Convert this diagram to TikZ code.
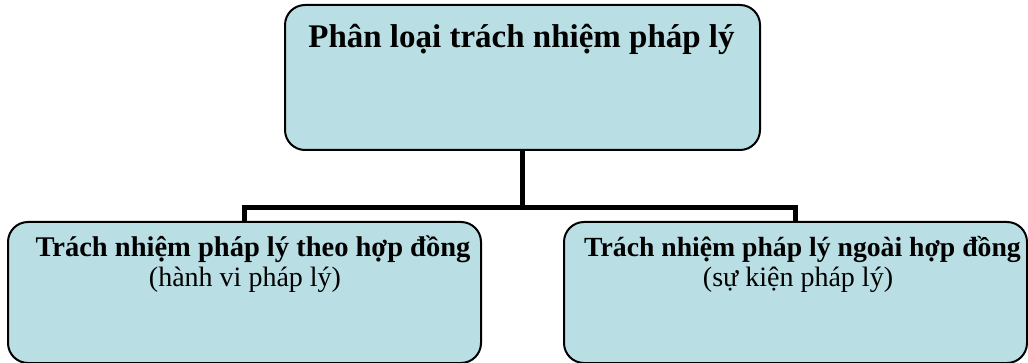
\documentclass[tikz,border=0pt]{standalone}
\usepackage{fontspec}
\setmainfont{Liberation Serif}
\definecolor{boxfill}{RGB}{185,222,227}
\tikzset{
  card/.style={draw=black, line width=2pt, fill=boxfill, rounded corners=20pt,
    inner sep=0pt},
  wire/.style={draw=black, line width=5pt, line join=miter, line cap=butt},
  headtxt/.style={font=\fontsize{33}{40}\selectfont\bfseries, anchor=base, inner sep=0pt},
  subhead/.style={font=\fontsize{28.5}{33}\selectfont\bfseries, anchor=base, inner sep=0pt},
  subnote/.style={font=\fontsize{28}{33}\selectfont, anchor=base, inner sep=0pt}
}
\begin{document}
\begin{tikzpicture}[x=1pt,y=-1pt]
\useasboundingbox (0,0) rectangle (1028,363);

% boxes
\node[card, minimum width=475pt, minimum height=145pt] (top) at (522.5,77.5) {};
\node[card, minimum width=473pt, minimum height=141pt] (left) at (244.5,292.5) {};
\node[card, minimum width=463pt, minimum height=141pt] (right) at (795.5,292.5) {};

% texts
\node[headtxt] (toptxt) at (521.5,48) {Phân loại trách nhiệm pháp lý};
\node[subhead] (lefttxt) at (253,257) {Trách nhiệm pháp lý theo hợp đồng};
\node[subnote] (leftnote) at (245,287) {(hành vi pháp lý)};
\node[subhead, font=\fontsize{27.7}{33}\selectfont\bfseries] (righttxt) at (802.5,257) {Trách nhiệm pháp lý ngoài hợp đồng};
\node[subnote] (rightnote) at (798,287) {(sự kiện pháp lý)};

% connectors
\coordinate (hub) at (522.5,208);
\draw[wire] (top.south) -- (hub);
\draw[wire] (left.north) -- (left.north |- hub) -- (right.north |- hub) -- (right.north);
\end{tikzpicture}
\end{document}
